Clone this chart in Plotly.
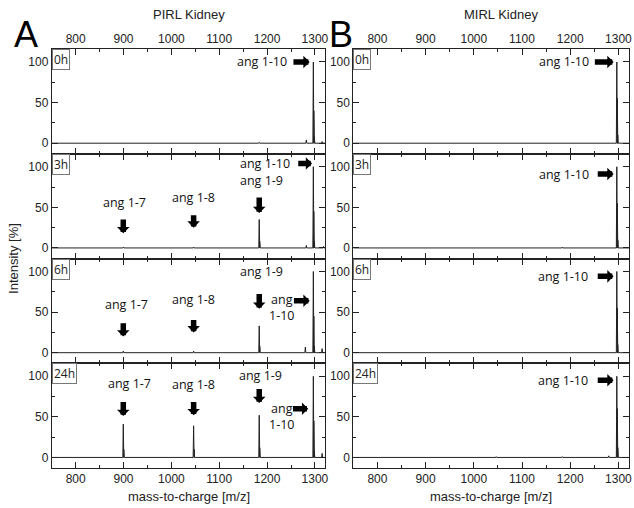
import plotly.graph_objects as go

# ---------------- data ----------------
times = ["0h", "3h", "6h", "24h"]
col_titles = ["PIRL Kidney", "MIRL Kidney"]
panel_letters = ["A", "B"]
x_ticks = [800, 900, 1000, 1100, 1200, 1300]
y_ticks = [0, 50, 100]

# peak lists (m/z, relative intensity %) per panel
pirl_mz = [
    [1183.6, 1282.0, 1296.7, 1297.7, 1298.7, 1315.0],
    [899.5, 1046.5, 1183.6, 1184.6, 1282.0, 1296.7, 1297.7, 1298.7, 1318.0],
    [899.5, 1046.5, 1183.6, 1184.6, 1280.0, 1296.7, 1297.7, 1298.7, 1315.0],
    [899.5, 900.5, 1046.5, 1047.5, 1183.6, 1184.6, 1296.7, 1297.7, 1298.7, 1315.0],
]
pirl_int = [
    [1, 4, 100, 40, 8, 2],
    [1, 1, 35, 8, 3, 100, 45, 8, 2],
    [2, 2, 33, 8, 7, 100, 45, 8, 5],
    [41, 10, 39, 10, 52, 12, 100, 45, 8, 5],
]
mirl_mz = [
    [1296.7, 1297.7, 1298.7],
    [1183.6, 1296.7, 1297.7, 1298.7],
    [1296.7, 1297.7, 1298.7],
    [1046.5, 1183.6, 1280.0, 1296.7, 1297.7, 1298.7],
]
mirl_int = [
    [100, 55, 10],
    [1, 100, 55, 10],
    [100, 55, 10],
    [1, 1, 2, 100, 60, 12],
]

# annotation labels: (panel row, col, text, x, y)
label_rows = [0, 1, 1, 1, 1, 2, 2, 2, 2, 3, 3, 3, 3, 0, 1, 2, 3]
label_cols = [0, 0, 0, 0, 0, 0, 0, 0, 0, 0, 0, 0, 0, 1, 1, 1, 1]
label_text = ["ang 1-10", "ang 1-10", "ang 1-9", "ang 1-7", "ang 1-8",
              "ang 1-9", "ang<br>1-10", "ang 1-7", "ang 1-8",
              "ang 1-7", "ang 1-8", "ang 1-9", "ang<br>1-10",
              "ang 1-10", "ang 1-10", "ang 1-10", "ang 1-10"]
label_x = [1189, 1195, 1189, 903, 1047,
           1189, 1230, 906, 1047,
           913, 1047, 1187, 1230,
           1188, 1188, 1186, 1186]
label_y = [100, 104, 83, 56, 62,
           100, 56, 59, 65,
           91, 90, 101, 51,
           100, 91, 94, 95]

# arrows: (row, col, head x, head y, tail x, tail y)
arrow_rows = [0, 1, 1, 1, 1, 2, 2, 2, 2, 3, 3, 3, 3, 0, 1, 2, 3]
arrow_cols = [0, 0, 0, 0, 0, 0, 0, 0, 0, 0, 0, 0, 0, 1, 1, 1, 1]
arrow_hx = [1289, 1294, 1183.6, 899.5, 1046.5, 1183.6, 1289, 899.5, 1046.5, 899.5, 1046.5, 1183.6, 1286,
            1290, 1290, 1290, 1290]
arrow_hy = [100, 104, 43, 18, 25, 54, 64, 20, 25, 51, 52, 67, 60,
            100, 91, 94, 95]
arrow_tx = [1252, 1262, 1183.6, 899.5, 1046.5, 1183.6, 1253, 899.5, 1046.5, 899.5, 1046.5, 1183.6, 1251,
            1248, 1254, 1254, 1254]
arrow_ty = [100, 104, 64, 37, 42, 74, 64, 38, 42, 70, 70, 86, 60,
            100, 91, 94, 95]

# ---------------- layout geometry ----------------
W, H = 634, 508
col_px = [(52, 327), (355, 632)]
top_px, bot_px = 49, 468
row_h = (bot_px - top_px) / 4

def px(xp):
    return xp / W

def py(yp):
    return 1 - yp / H

fig = go.Figure()

def axname(r, c):
    n = r * 2 + c + 1
    return ("" if n == 1 else str(n))

def build(mzs, ints):
    pairs = sorted(zip(mzs, ints))
    xs, ys = [750], [0]
    for m, h in pairs:
        xs += [m - 1.0, m, m + 1.0]
        ys += [0, h, 0]
    xs.append(1322)
    ys.append(0)
    return xs, ys

font_tick = dict(family="Liberation Sans, Arial", size=12, color="#222")
for r in range(4):
    for c in range(2):
        n = axname(r, c)
        mzs = pirl_mz[r] if c == 0 else mirl_mz[r]
        ints = pirl_int[r] if c == 0 else mirl_int[r]
        xs, ys = build(mzs, ints)
        fig.add_trace(go.Scatter(x=xs, y=ys, mode="lines",
                                 line=dict(color="#222", width=1),
                                 xaxis="x" + n, yaxis="y" + n, showlegend=False,
                                 hoverinfo="skip"))
        x0, x1 = col_px[c]
        yt = top_px + r * row_h
        yb = yt + row_h
        xd = [px(x0), px(x1)]
        yd = [py(yb), py(yt)]
        xa = dict(domain=xd, range=[750, 1322], anchor="y" + n,
                  tickvals=x_ticks, ticks="inside", ticklen=6, tickwidth=1,
                  tickcolor="#222", showline=True, linecolor="#222", linewidth=1,
                  mirror="allticks", showgrid=False, zeroline=False,
                  minor=dict(dtick=50, tick0=750, ticks="inside", ticklen=3, tickcolor="#222"),
                  tickfont=font_tick,
                  showticklabels=(r == 0 or r == 3),
                  side="top" if r == 0 else "bottom")
        ya = dict(domain=yd, range=[-13, 116], anchor="x" + n,
                  tickvals=y_ticks, ticks="inside", ticklen=6, tickwidth=1,
                  tickcolor="#222", showline=True, linecolor="#222", linewidth=1,
                  mirror="allticks", showgrid=False, zeroline=False,
                  minor=dict(dtick=25, tick0=0, ticks="inside", ticklen=3, tickcolor="#222"),
                  tickfont=font_tick)
        fig.layout["xaxis" + n] = xa
        fig.layout["yaxis" + n] = ya
        fig.add_annotation(text=times[r], xref="x" + n + " domain", yref="y" + n + " domain",
                           x=0, y=1, xanchor="left", yanchor="top", showarrow=False,
                           font=dict(family="Open Sans", size=12, color="#222"),
                           bordercolor="#777", borderwidth=1, borderpad=1, bgcolor="white")

afont = dict(family="Open Sans", size=12.5, color="#111")
for i in range(len(label_text)):
    n = axname(label_rows[i], label_cols[i])
    fig.add_annotation(text=label_text[i], x=label_x[i], y=label_y[i], xref="x" + n, yref="y" + n,
                       showarrow=False, font=afont, xanchor="center", yanchor="middle")

for i in range(len(arrow_rows)):
    n = axname(arrow_rows[i], arrow_cols[i])
    fig.add_annotation(text="", x=arrow_hx[i], y=arrow_hy[i], ax=arrow_tx[i], ay=arrow_ty[i],
                       xref="x" + n, yref="y" + n, axref="x" + n, ayref="y" + n,
                       showarrow=True, arrowhead=1, arrowsize=0.38, arrowwidth=5.5, arrowcolor="#000")

# titles and letters
tfont = dict(family="Liberation Sans, Arial", size=13, color="#222")
def paper_text(text, xp, yp, font, angle=0):
    fig.add_annotation(text=text, x=px(xp), y=py(yp), xref="paper", yref="paper",
                       xanchor="center", yanchor="middle", showarrow=False,
                       textangle=angle, font=font)

paper_text(col_titles[0], 190, 15, tfont)
paper_text(col_titles[1], 503, 15, tfont)
letter_font = dict(family="Liberation Sans, Arial", size=36, color="#000")
paper_text(panel_letters[0], 26, 35, letter_font)
paper_text(panel_letters[1], 343, 35, letter_font)
paper_text("Intensity [%]", 13, 258, tfont, -90)
paper_text("mass-to-charge [m/z]", 190, 496, tfont)
paper_text("mass-to-charge [m/z]", 493, 496, tfont)

fig.update_layout(width=W, height=H, margin=dict(l=0, r=0, t=0, b=0),
                  paper_bgcolor="white", plot_bgcolor="white")
fig.write_html("out.html", config={"displayModeBar": False},
               post_script="document.body.style.margin='0';")
